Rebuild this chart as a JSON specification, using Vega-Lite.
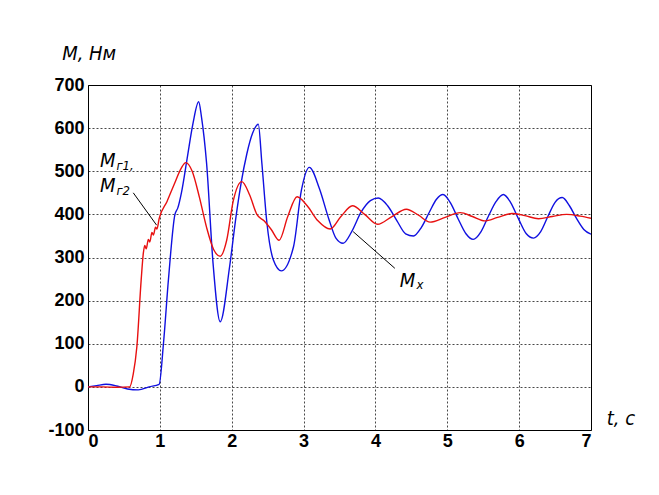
{
  "$schema": "https://vega.github.io/schema/vega-lite/v6.json",
  "width": 503,
  "height": 345,
  "autosize": {"type": "none"},
  "padding": {"left": 88, "top": 85, "right": 68, "bottom": 65},
  "background": "white",
  "config": {
    "view": {"stroke": "black", "strokeWidth": 1},
    "axis": {
      "grid": true, "gridColor": "black", "gridDash": [2, 2], "gridOpacity": 0.9, "gridWidth": 0.8,
      "domain": false, "ticks": false,
      "labelFont": "Liberation Sans", "labelFontWeight": "bold", "labelFontSize": 18, "labelColor": "black",
      "labelExpr": "'' + datum.value",
      "title": null
    }
  },
  "datasets": {
    "curves": [
      {"s": "Mx", "t": 0, "M": 0}, {"s": "Mx", "t": 0.12, "M": 3}, {"s": "Mx", "t": 0.25, "M": 6}, {"s": "Mx", "t": 0.4, "M": 2},
      {"s": "Mx", "t": 0.55, "M": -5}, {"s": "Mx", "t": 0.7, "M": -7}, {"s": "Mx", "t": 0.85, "M": 0}, {"s": "Mx", "t": 0.99, "M": 6},
      {"s": "Mx", "t": 1.05, "M": 100}, {"s": "Mx", "t": 1.12, "M": 250}, {"s": "Mx", "t": 1.21, "M": 400}, {"s": "Mx", "t": 1.25, "M": 415},
      {"s": "Mx", "t": 1.3, "M": 450}, {"s": "Mx", "t": 1.38, "M": 530}, {"s": "Mx", "t": 1.46, "M": 610}, {"s": "Mx", "t": 1.54, "M": 661},
      {"s": "Mx", "t": 1.58, "M": 625}, {"s": "Mx", "t": 1.65, "M": 519}, {"s": "Mx", "t": 1.74, "M": 287}, {"s": "Mx", "t": 1.84, "M": 151},
      {"s": "Mx", "t": 1.97, "M": 278}, {"s": "Mx", "t": 2.06, "M": 395}, {"s": "Mx", "t": 2.13, "M": 472}, {"s": "Mx", "t": 2.21, "M": 540},
      {"s": "Mx", "t": 2.29, "M": 588}, {"s": "Mx", "t": 2.37, "M": 609}, {"s": "Mx", "t": 2.42, "M": 518}, {"s": "Mx", "t": 2.49, "M": 380}, {"s": "Mx", "t": 2.58, "M": 294},
      {"s": "Mx", "t": 2.69, "M": 269}, {"s": "Mx", "t": 2.86, "M": 325}, {"s": "Mx", "t": 2.97, "M": 456}, {"s": "Mx", "t": 3.08, "M": 509},
      {"s": "Mx", "t": 3.22, "M": 460}, {"s": "Mx", "t": 3.35, "M": 390}, {"s": "Mx", "t": 3.45, "M": 345}, {"s": "Mx", "t": 3.55, "M": 333},
      {"s": "Mx", "t": 3.67, "M": 360}, {"s": "Mx", "t": 3.8, "M": 405}, {"s": "Mx", "t": 3.93, "M": 432}, {"s": "Mx", "t": 4.04, "M": 438},
      {"s": "Mx", "t": 4.17, "M": 420}, {"s": "Mx", "t": 4.3, "M": 385}, {"s": "Mx", "t": 4.42, "M": 355}, {"s": "Mx", "t": 4.53, "M": 350},
      {"s": "Mx", "t": 4.64, "M": 370}, {"s": "Mx", "t": 4.75, "M": 405}, {"s": "Mx", "t": 4.85, "M": 435}, {"s": "Mx", "t": 4.94, "M": 446},
      {"s": "Mx", "t": 5.05, "M": 425}, {"s": "Mx", "t": 5.15, "M": 390}, {"s": "Mx", "t": 5.26, "M": 355}, {"s": "Mx", "t": 5.36, "M": 342},
      {"s": "Mx", "t": 5.47, "M": 360}, {"s": "Mx", "t": 5.57, "M": 395}, {"s": "Mx", "t": 5.68, "M": 430}, {"s": "Mx", "t": 5.78, "M": 446},
      {"s": "Mx", "t": 5.88, "M": 428}, {"s": "Mx", "t": 5.99, "M": 390}, {"s": "Mx", "t": 6.1, "M": 355}, {"s": "Mx", "t": 6.2, "M": 345},
      {"s": "Mx", "t": 6.3, "M": 360}, {"s": "Mx", "t": 6.4, "M": 395}, {"s": "Mx", "t": 6.5, "M": 428}, {"s": "Mx", "t": 6.6, "M": 439},
      {"s": "Mx", "t": 6.7, "M": 420}, {"s": "Mx", "t": 6.8, "M": 390}, {"s": "Mx", "t": 6.9, "M": 365}, {"s": "Mx", "t": 7.0, "M": 354},

      {"s": "Mr", "t": 0, "M": 0}, {"s": "Mr", "t": 0.2, "M": 0}, {"s": "Mr", "t": 0.4, "M": -1}, {"s": "Mr", "t": 0.58, "M": 0},
      {"s": "Mr", "t": 0.63, "M": 30}, {"s": "Mr", "t": 0.68, "M": 93}, {"s": "Mr", "t": 0.74, "M": 248}, {"s": "Mr", "t": 0.77, "M": 310},
      {"s": "Mr", "t": 0.79, "M": 328}, {"s": "Mr", "t": 0.81, "M": 320}, {"s": "Mr", "t": 0.84, "M": 342}, {"s": "Mr", "t": 0.86, "M": 336},
      {"s": "Mr", "t": 0.89, "M": 358}, {"s": "Mr", "t": 0.91, "M": 352}, {"s": "Mr", "t": 0.94, "M": 370}, {"s": "Mr", "t": 0.96, "M": 366},
      {"s": "Mr", "t": 0.99, "M": 390}, {"s": "Mr", "t": 1.1, "M": 430}, {"s": "Mr", "t": 1.2, "M": 470}, {"s": "Mr", "t": 1.3, "M": 508},
      {"s": "Mr", "t": 1.36, "M": 520}, {"s": "Mr", "t": 1.45, "M": 500}, {"s": "Mr", "t": 1.55, "M": 440}, {"s": "Mr", "t": 1.65, "M": 370},
      {"s": "Mr", "t": 1.75, "M": 318}, {"s": "Mr", "t": 1.84, "M": 303}, {"s": "Mr", "t": 1.93, "M": 340}, {"s": "Mr", "t": 2.02, "M": 430},
      {"s": "Mr", "t": 2.14, "M": 476}, {"s": "Mr", "t": 2.25, "M": 445}, {"s": "Mr", "t": 2.35, "M": 400}, {"s": "Mr", "t": 2.45, "M": 385},
      {"s": "Mr", "t": 2.55, "M": 365}, {"s": "Mr", "t": 2.66, "M": 340}, {"s": "Mr", "t": 2.78, "M": 395}, {"s": "Mr", "t": 2.91, "M": 441},
      {"s": "Mr", "t": 3.05, "M": 420}, {"s": "Mr", "t": 3.2, "M": 385}, {"s": "Mr", "t": 3.37, "M": 366}, {"s": "Mr", "t": 3.52, "M": 395},
      {"s": "Mr", "t": 3.68, "M": 420}, {"s": "Mr", "t": 3.85, "M": 400}, {"s": "Mr", "t": 4.03, "M": 377}, {"s": "Mr", "t": 4.23, "M": 395},
      {"s": "Mr", "t": 4.43, "M": 412}, {"s": "Mr", "t": 4.6, "M": 398}, {"s": "Mr", "t": 4.76, "M": 382}, {"s": "Mr", "t": 4.97, "M": 393},
      {"s": "Mr", "t": 5.18, "M": 404}, {"s": "Mr", "t": 5.35, "M": 395}, {"s": "Mr", "t": 5.52, "M": 385}, {"s": "Mr", "t": 5.7, "M": 393},
      {"s": "Mr", "t": 5.9, "M": 402}, {"s": "Mr", "t": 6.08, "M": 397}, {"s": "Mr", "t": 6.27, "M": 390}, {"s": "Mr", "t": 6.46, "M": 395},
      {"s": "Mr", "t": 6.66, "M": 400}, {"s": "Mr", "t": 6.85, "M": 396}, {"s": "Mr", "t": 7.0, "M": 391}
    ],
    "pointers": [
      {"t": 0.63, "M": 450, "t2": 0.955, "M2": 375},
      {"t": 3.69, "M": 360, "t2": 4.27, "M2": 275}
    ],
    "bigtext": [
      {"label": "М,  Нм", "t": -0.36, "M": 758},
      {"label": "М", "t": 0.167, "M": 510},
      {"label": "М", "t": 0.167, "M": 452},
      {"label": "М", "t": 4.34, "M": 231},
      {"label": "t, с", "t": 7.22, "M": -89}
    ],
    "subtext": [
      {"label": "г1,", "t": 0.395, "M": 503},
      {"label": "г2", "t": 0.395, "M": 445},
      {"label": "x", "t": 4.57, "M": 227}
    ]
  },
  "layer": [
    {
      "data": {"name": "curves"},
      "mark": {"type": "line", "interpolate": "monotone", "strokeWidth": 1.4, "clip": true},
      "encoding": {
        "x": {"field": "t", "type": "quantitative", "scale": {"domain": [0, 7], "nice": false},
              "axis": {"values": [0, 1, 2, 3, 4, 5, 6, 7], "labelPadding": 2}},
        "y": {"field": "M", "type": "quantitative", "scale": {"domain": [-100, 700], "nice": false},
              "axis": {"values": [-100, 0, 100, 200, 300, 400, 500, 600, 700], "labelPadding": 4}},
        "color": {"field": "s", "type": "nominal", "scale": {"domain": ["Mx", "Mr"], "range": ["#1010e0", "#e81010"]}, "legend": null},
        "order": {"field": "t", "type": "quantitative"}
      }
    },
    {
      "data": {"name": "pointers"},
      "mark": {"type": "rule", "color": "black", "strokeWidth": 1},
      "encoding": {
        "x": {"field": "t", "type": "quantitative"},
        "y": {"field": "M", "type": "quantitative"},
        "x2": {"field": "t2"},
        "y2": {"field": "M2"}
      }
    },
    {
      "data": {"name": "bigtext"},
      "mark": {"type": "text", "align": "left", "baseline": "alphabetic", "font": "DejaVu Sans Condensed", "fontStyle": "italic", "fontSize": 20, "color": "black"},
      "encoding": {
        "x": {"field": "t", "type": "quantitative"},
        "y": {"field": "M", "type": "quantitative"},
        "text": {"field": "label"}
      }
    },
    {
      "data": {"name": "subtext"},
      "mark": {"type": "text", "align": "left", "baseline": "alphabetic", "font": "DejaVu Sans Condensed", "fontStyle": "italic", "fontSize": 13, "color": "black"},
      "encoding": {
        "x": {"field": "t", "type": "quantitative"},
        "y": {"field": "M", "type": "quantitative"},
        "text": {"field": "label"}
      }
    }
  ]
}
